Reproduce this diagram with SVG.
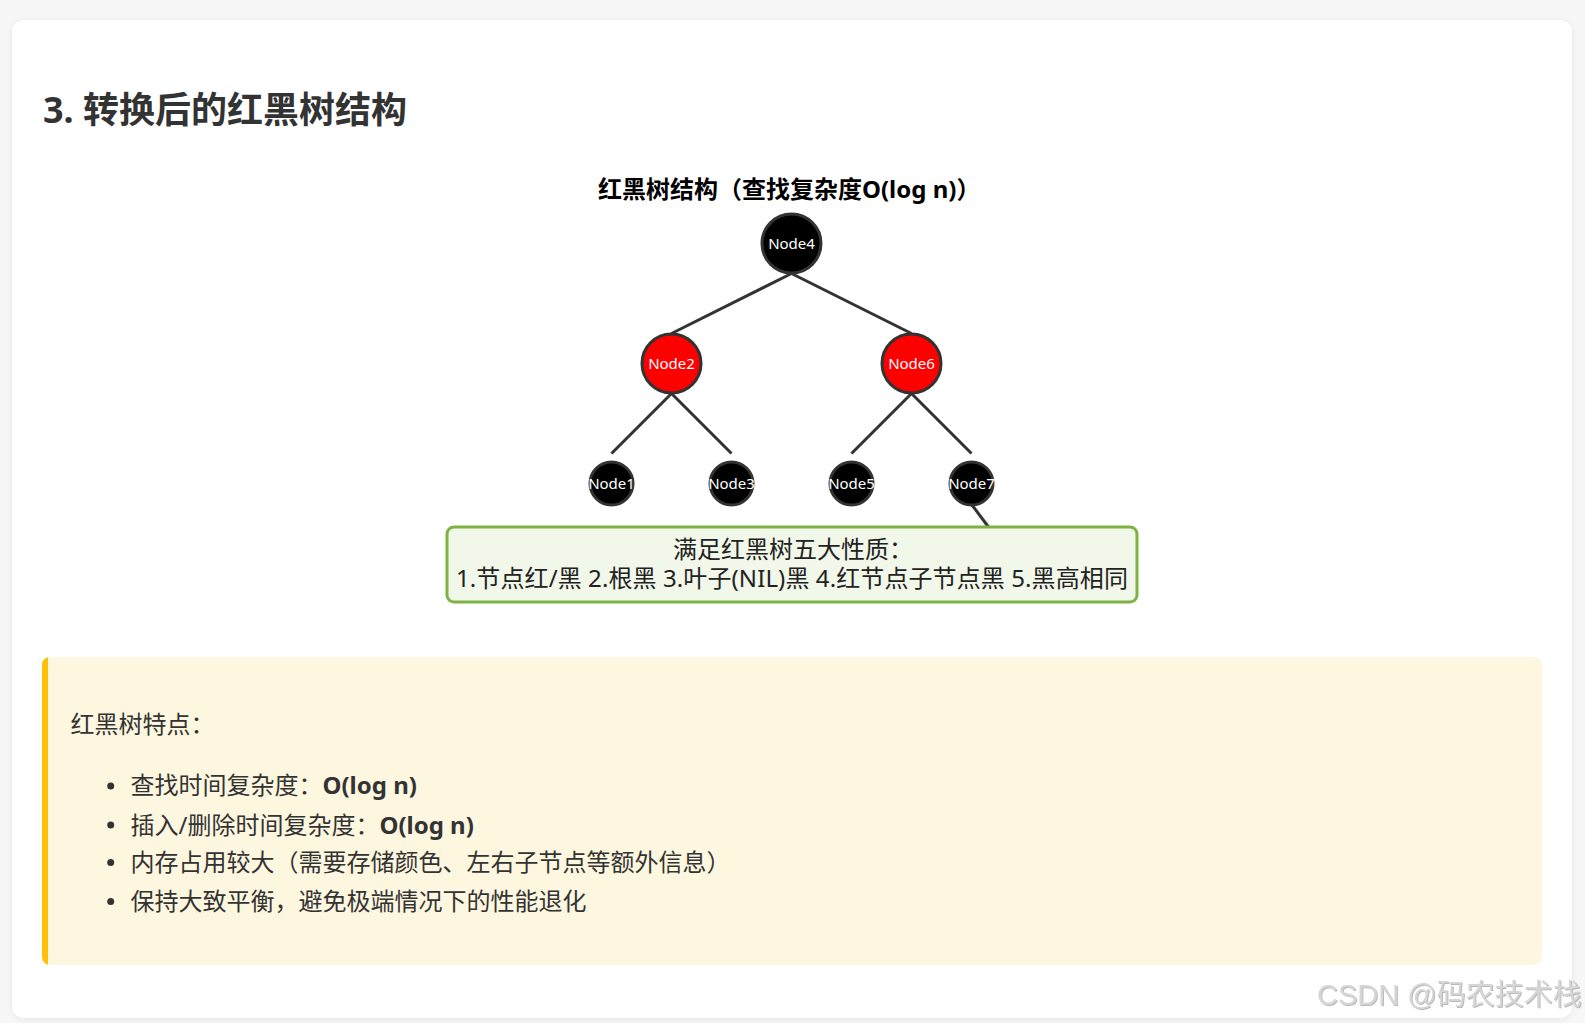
<svg xmlns="http://www.w3.org/2000/svg" width="1585" height="1023" viewBox="0 0 1585 1023">
<style>
  .cjk { font-family: "Noto Sans", "Noto Sans CJK SC", sans-serif; }
  .h2 { font-size: 36px; font-weight: bold; fill: #333; }
  .dtitle { font-size: 24px; font-weight: bold; fill: #000; }
  .body { font-size: 24px; fill: #333; }
  .boxtxt { font-size: 24px; fill: #222; }
  .nlabel { font-family: "Noto Sans", "Liberation Sans", sans-serif; font-size: 15px; fill: #fff; text-anchor: middle; }
  .edge { stroke: #333; stroke-width: 3; fill: none; }
  .red { fill: #ff0000; stroke: #333; stroke-width: 3; }
  .black { fill: #000; stroke: #333; stroke-width: 3; }
  .wm { font-family: "Liberation Sans", "Noto Sans CJK SC", sans-serif; font-size: 29px; fill: #d6d6d6; }
</style>
<defs>
  <filter id="cardShadow" x="-5%" y="-5%" width="110%" height="110%">
    <feDropShadow dx="0" dy="1" stdDeviation="3" flood-color="#000" flood-opacity="0.08"/>
  </filter>
  <filter id="wmShadow" x="-5%" y="-20%" width="110%" height="140%">
    <feDropShadow dx="1" dy="1" stdDeviation="0.6" flood-color="#888" flood-opacity="0.6"/>
  </filter>
  <clipPath id="noteClip">
    <rect x="42" y="657" width="1500" height="308" rx="8"/>
  </clipPath>
</defs>

<rect x="0" y="0" width="1585" height="1023" fill="#f7f7f7"/>
<rect x="12" y="20" width="1560" height="998" rx="12" fill="#fff" filter="url(#cardShadow)"/>

<text class="cjk h2" x="43" y="123">3. 转换后的红黑树结构</text>

<text class="cjk dtitle" x="598" y="198">红黑树结构（查找复杂度O(log n)）</text>

<g id="connectors">
  <line class="edge" x1="791.5" y1="273.5" x2="671.5" y2="333.5"/>
  <line class="edge" x1="791.5" y1="273.5" x2="911.5" y2="333.5"/>
  <line class="edge" x1="671.5" y1="393.5" x2="611.5" y2="453.5"/>
  <line class="edge" x1="671.5" y1="393.5" x2="731.5" y2="453.5"/>
  <line class="edge" x1="911.5" y1="393.5" x2="851.5" y2="453.5"/>
  <line class="edge" x1="911.5" y1="393.5" x2="971.5" y2="453.5"/>
  <line class="edge" x1="972" y1="505" x2="988.5" y2="527"/>
</g>

<g id="node4">
  <circle class="black" cx="791.5" cy="243.5" r="29.5"/>
  <text class="nlabel" x="791.5" y="249">Node4</text>
</g>
<g id="node2">
  <circle class="red" cx="671.5" cy="363.5" r="29.5"/>
  <text class="nlabel" x="671.5" y="369">Node2</text>
</g>
<g id="node6">
  <circle class="red" cx="911.5" cy="363.5" r="29.5"/>
  <text class="nlabel" x="911.5" y="369">Node6</text>
</g>
<g id="node1">
  <circle class="black" cx="611.5" cy="483.5" r="21.5"/>
  <text class="nlabel" x="611.5" y="489">Node1</text>
</g>
<g id="node3">
  <circle class="black" cx="731.5" cy="483.5" r="21.5"/>
  <text class="nlabel" x="731.5" y="489">Node3</text>
</g>
<g id="node5">
  <circle class="black" cx="851.5" cy="483.5" r="21.5"/>
  <text class="nlabel" x="851.5" y="489">Node5</text>
</g>
<g id="node7">
  <circle class="black" cx="971.5" cy="483.5" r="21.5"/>
  <text class="nlabel" x="971.5" y="489">Node7</text>
</g>

<g id="properties">
  <rect x="447" y="527" width="690" height="75" rx="7" fill="#f1f8e9" stroke="#7cb342" stroke-width="3"/>
  <text class="cjk boxtxt" x="673" y="558">满足红黑树五大性质：</text>
  <text class="cjk boxtxt" x="792" y="587" text-anchor="middle" letter-spacing="0.1">1.节点红/黑 2.根黑 3.叶子(NIL)黑 4.红节点子节点黑 5.黑高相同</text>
</g>

<g id="note">
  <rect x="42" y="657" width="1500" height="308" rx="8" fill="#fef7e0"/>
  <rect x="42" y="657" width="6" height="308" fill="#ffc107" clip-path="url(#noteClip)"/>
  <text class="cjk body" x="70.5" y="733">红黑树特点：</text>
  <circle cx="110.7" cy="786" r="3.5" fill="#333"/>
  <circle cx="110.7" cy="825" r="3.5" fill="#333"/>
  <circle cx="110.7" cy="862.5" r="3.5" fill="#333"/>
  <circle cx="110.7" cy="901.5" r="3.5" fill="#333"/>
  <text class="cjk body" x="130.5" y="794">查找时间复杂度：<tspan font-weight="bold">O(log n)</tspan></text>
  <text class="cjk body" x="130.5" y="833.5">插入/删除时间复杂度：<tspan font-weight="bold">O(log n)</tspan></text>
  <text class="cjk body" x="130.5" y="870.5">内存占用较大（需要存储颜色、左右子节点等额外信息）</text>
  <text class="cjk body" x="130.5" y="909.5">保持大致平衡，避免极端情况下的性能退化</text>
</g>

<text class="wm" x="1317" y="1005" filter="url(#wmShadow)">CSDN @码农技术栈</text>
</svg>
